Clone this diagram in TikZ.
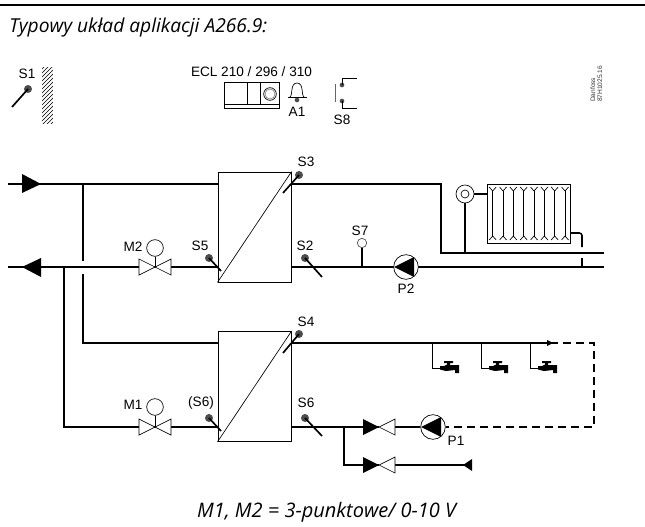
\documentclass[tikz,border=0pt]{standalone}
\usepackage{fontspec}
\usetikzlibrary{patterns}
\setmainfont{Open Sans}
\newfontfamily\arialfont{Liberation Sans}

\tikzset{
  pipe/.style={line width=1.15pt},
  dashpipe/.style={line width=1.15pt, dash pattern=on 6pt off 3.75pt},
  thinline/.style={line width=0.5pt},
  exchanger/.style={draw, thinline, minimum width=55pt, minimum height=82.5pt, inner sep=0pt},
  sensordot/.style={circle, fill=black!70, minimum size=6pt, inner sep=0pt},
  sensorline/.style={line width=1.25pt},
  actuator/.style={circle, draw, thinline, minimum size=12.5pt, inner sep=0pt},
  pumpbody/.style={circle, draw, thinline, fill=white, minimum size=18.5pt, inner sep=0pt},
  tag/.style={font=\arialfont\fontsize{10.2}{12}\selectfont, inner sep=0pt},
  headline/.style={font=\fontsize{14.4}{17}\selectfont\itshape, inner sep=0pt}
}

\begin{document}
\begin{tikzpicture}[x=0.75pt, y=-0.75pt]
\useasboundingbox (0,0) rectangle (645,527);

% Header
\coordinate (ruleL) at (0,5);
\coordinate (ruleR) at (645,5);
\draw[line width=1.9pt] (ruleL) -- (ruleR);
\node[headline, anchor=west] (title) at (9,28) {Typowy układ aplikacji A266.9:};
\node[headline, font=\fontsize{15}{17}\selectfont\itshape] (note) at (326.5,512) {M1, M2 = 3-punktowe/ 0-10 V};

% Outdoor sensor S1
\node[tag] (s1t) at (27,74) {S1};
\node[sensordot] (s1d) at (28,89) {};
\coordinate (s1e) at (12,107);
\draw[sensorline] (s1d.center) -- (s1e);
\node[pattern=north east lines, minimum width=8pt, minimum height=42pt, inner sep=0pt] (wall) at (47.5,96) {};

% Controller
\node[tag] (ecl) at (251.5,72) {ECL 210 / 296 / 310};
\node[draw, thinline, minimum width=41pt, minimum height=19.5pt, inner sep=0pt] (ctrl) at (251.5,95) {};
\coordinate (ctrlL) at (224,104);
\coordinate (ctrlR) at (279,104);
\coordinate (ctrlA) at (247,82);
\coordinate (ctrlB) at (247,104);
\coordinate (ctrlC) at (260,82);
\coordinate (ctrlD) at (260,104);
\draw[thinline] (ctrlL) -- (ctrlR);
\draw[thinline] (ctrlA) -- (ctrlB);
\draw[thinline] (ctrlC) -- (ctrlD);
\node[circle, draw, thinline, minimum size=9.5pt, inner sep=0pt] (knob) at (270,94) {};
\node[circle, draw=black!50, thinline, minimum size=7.5pt, inner sep=0pt] (knobin) at (270,94) {};

% Alarm A1
\draw[thinline] (288,97) -- (307,97);
\draw[thinline] (290,97) .. controls (293,95) and (290,83) .. (297,83) .. controls (304,83) and (301,95) .. (304,97);
\node[sensordot, minimum size=3.5pt] (bell) at (297,100) {};
\node[tag] (a1) at (297,112) {A1};

% Switch S8
\node[sensordot, minimum size=3.5pt] (s8a) at (342,85) {};
\node[sensordot, minimum size=3.5pt] (s8b) at (342,101) {};
\coordinate (s8p) at (357,78);
\coordinate (s8q) at (357,108);
\coordinate (s8m) at (335,84);
\coordinate (s8n) at (335,102);
\draw[thinline] (s8a.center) |- (s8p);
\draw[thinline] (s8b.center) |- (s8q);
\draw[thinline, black!60] (s8m) -- (s8n);
\node[tag] (s8t) at (342,120) {S8};

\node[rotate=90, anchor=north west, align=left, inner sep=0pt, font=\arialfont\fontsize{4.9}{5.4}\selectfont, text=black!80] (code) at (590,102) {Danfoss\\87H1025.16};

% Exchangers
\node[exchanger] (hxa) at (254.5,227) {};
\node[exchanger] (hxb) at (254.5,386.5) {};
\draw[thinline] (hxa.south west) -- (hxa.north east);
\draw[thinline] (hxb.south west) -- (hxb.north east);

% Primary side
\coordinate (supply) at (8,184);
\coordinate (return) at (8,267);
\coordinate (split) at (83,184);
\coordinate (gapA) at (83,261);
\coordinate (gapB) at (83,274);
\coordinate (hwin) at (218,343);
\coordinate (cornerA) at (83,343);
\coordinate (tee) at (64,267);
\coordinate (cornerB) at (64,427);
\coordinate (hxaIn) at (218,184);
\coordinate (hxaRet) at (218,267);
\coordinate (hxbRet) at (218,427);
\draw[pipe] (supply) -- (hxaIn);
\draw[pipe] (return) -- (hxaRet);
\draw[pipe] (split) -- (gapA);
\draw[pipe] (gapB) -- (cornerA) -- (hwin);
\draw[pipe] (tee) -- (cornerB) -- (hxbRet);
\fill (22,174) -- (41,184) -- (22,193) -- cycle;
\fill (22,267) -- (41,258) -- (41,277) -- cycle;

% Motor valves
\coordinate (m2v) at (155,267);
\coordinate (m1v) at (155,427);
\foreach \v in {m2v, m1v}
  \draw[thinline, fill=white, shift={(\v)}] (-16,-8) -- (16,8) -- (16,-8) -- (-16,8) -- cycle;
\node[actuator] (m2a) at (155,248) {};
\node[actuator] (m1a) at (155,407) {};
\draw[thinline] (m2a) -- (m2v);
\draw[thinline] (m1a) -- (m1v);
\node[tag] (m2t) at (133,247) {M2};
\node[tag] (m1t) at (133,405) {M1};

% Heating circuit
\coordinate (hxaOut) at (291,184);
\coordinate (bendA) at (441,184);
\coordinate (bendB) at (441,253);
\coordinate (flowEnd) at (604,253);
\coordinate (hxaBack) at (291,267);
\coordinate (backEnd) at (604,267);
\draw[pipe] (hxaOut) -- (bendA) -- (bendB) -- (flowEnd);
\draw[pipe] (hxaBack) -- (backEnd);
\coordinate (s7j) at (362,267);
\node[circle, draw=black!70, thinline, fill=white, minimum size=7pt, inner sep=0pt] (s7d) at (362,243) {};
\draw[pipe] (s7d) -- (s7j);
\node[tag] (s7t) at (360,231) {S7};
\node[pumpbody] (p2) at (406,267) {};
\fill (394,267) -- (414,257) -- (414,277) -- cycle;
\node[tag] (p2t) at (406,289) {P2};

% Radiator
\node[draw, line width=0.7pt, minimum width=62.25pt, minimum height=44.25pt, inner sep=0pt] (rad) at (528.5,213.5) {};
\foreach \i in {0,...,7} {
  \draw[thinline, shift={(492.7+10.33*\i,0)}] (-3.5,187) -- (0,191) -- (3.5,187);
  \draw[thinline, shift={(492.7+10.33*\i,0)}] (0,191) -- (0,237);
  \draw[thinline, shift={(492.7+10.33*\i,0)}] (-3.5,240) -- (0,236) -- (3.5,240);
}
\node[circle, draw, thinline, minimum size=13.5pt, inner sep=0pt] (rv) at (465,194) {};
\node[circle, draw, thinline, minimum size=6pt, inner sep=0pt] (rvin) at (465,194) {};
\coordinate (rvj) at (465,253);
\coordinate (radIn) at (487,194);
\draw[pipe] (rv) -- (rvj);
\draw[pipe] (rv) -- (radIn);
\coordinate (radOut) at (570,233);
\coordinate (radBend) at (582,233);
\coordinate (radGapA) at (582,247);
\coordinate (radGapB) at (582,258);
\coordinate (radJoin) at (582,267);
\draw[pipe, rounded corners=2pt] (radOut) -- (radBend) -- (radGapA);
\draw[pipe] (radGapB) -- (radJoin);

% Hot water circuit
\coordinate (hxbOut) at (291,343);
\coordinate (drawEnd) at (550,343);
\coordinate (loopA) at (594,343);
\coordinate (loopB) at (594,427);
\draw[pipe] (hxbOut) -- (drawEnd);
\fill (547,340) -- (553,343) -- (547,346) -- cycle;
\node[pumpbody] (p1) at (433,427) {};
\draw[dashpipe] (drawEnd) -- (loopA) -- (loopB) -- (p1);
\fill (421,427) -- (441,417) -- (441,437) -- cycle;
\node[tag] (p1t) at (456,441) {P1};

% Taps
\foreach \x in {432,481,530} {
  \draw[thinline] (\x,343) |- (\x+8,368);
  \fill[shift={(\x,0)}] (8,366) -- (12,366) -- (15,364.5) -- (15,363) -- (12,363) -- (12,361) -- (21,361) -- (21,363) -- (18,363) -- (18,365) -- (27,365) -- (27,373) -- (23,373) -- (23,370) -- (14,371) -- (8,369.5) -- cycle;
}

% Service water valves
\coordinate (hxbBack) at (291,427);
\coordinate (va) at (379,427);
\coordinate (vb) at (379,465);
\coordinate (branch) at (344,427);
\coordinate (branchB) at (344,465);
\coordinate (coldEnd) at (465,465);
\draw[pipe] (hxbBack) -- (va);
\draw[pipe] (va) -- (p1);
\draw[pipe] (branch) -- (branchB) -- (coldEnd);
\foreach \v in {va, vb} {
  \fill[white, shift={(\v)}] (0,-8) rectangle (16,8);
  \fill[shift={(\v)}] (-16,-8) -- (0,0) -- (-16,8) -- cycle;
  \draw[thinline, fill=white, shift={(\v)}] (0,0) -- (16,-8) -- (16,8) -- cycle;
}
\fill (463,465) -- (472,459) -- (472,471) -- cycle;

% Sensors on exchangers
\foreach \dx/\dy/\ex/\ey/\nm in {299/175/283/193/s3, 209/258/221/271/s5, 305/258/322/277/s2, 299/334/283/353/s4, 209/418/221/431/s6a, 305/418/322/436/s6b} {
  \node[sensordot] (\nm d) at (\dx,\dy) {};
  \coordinate (\nm e) at (\ex,\ey);
  \draw[sensorline] (\nm d.center) -- (\nm e);
}
\node[tag] (s3t) at (306,162) {S3};
\node[tag] (s5t) at (200,246) {S5};
\node[tag] (s2t) at (305,246) {S2};
\node[tag] (s4t) at (306,322) {S4};
\node[tag] (s6at) at (201,403) {(S6)};
\node[tag] (s6bt) at (306,403) {S6};

\end{tikzpicture}
\end{document}
